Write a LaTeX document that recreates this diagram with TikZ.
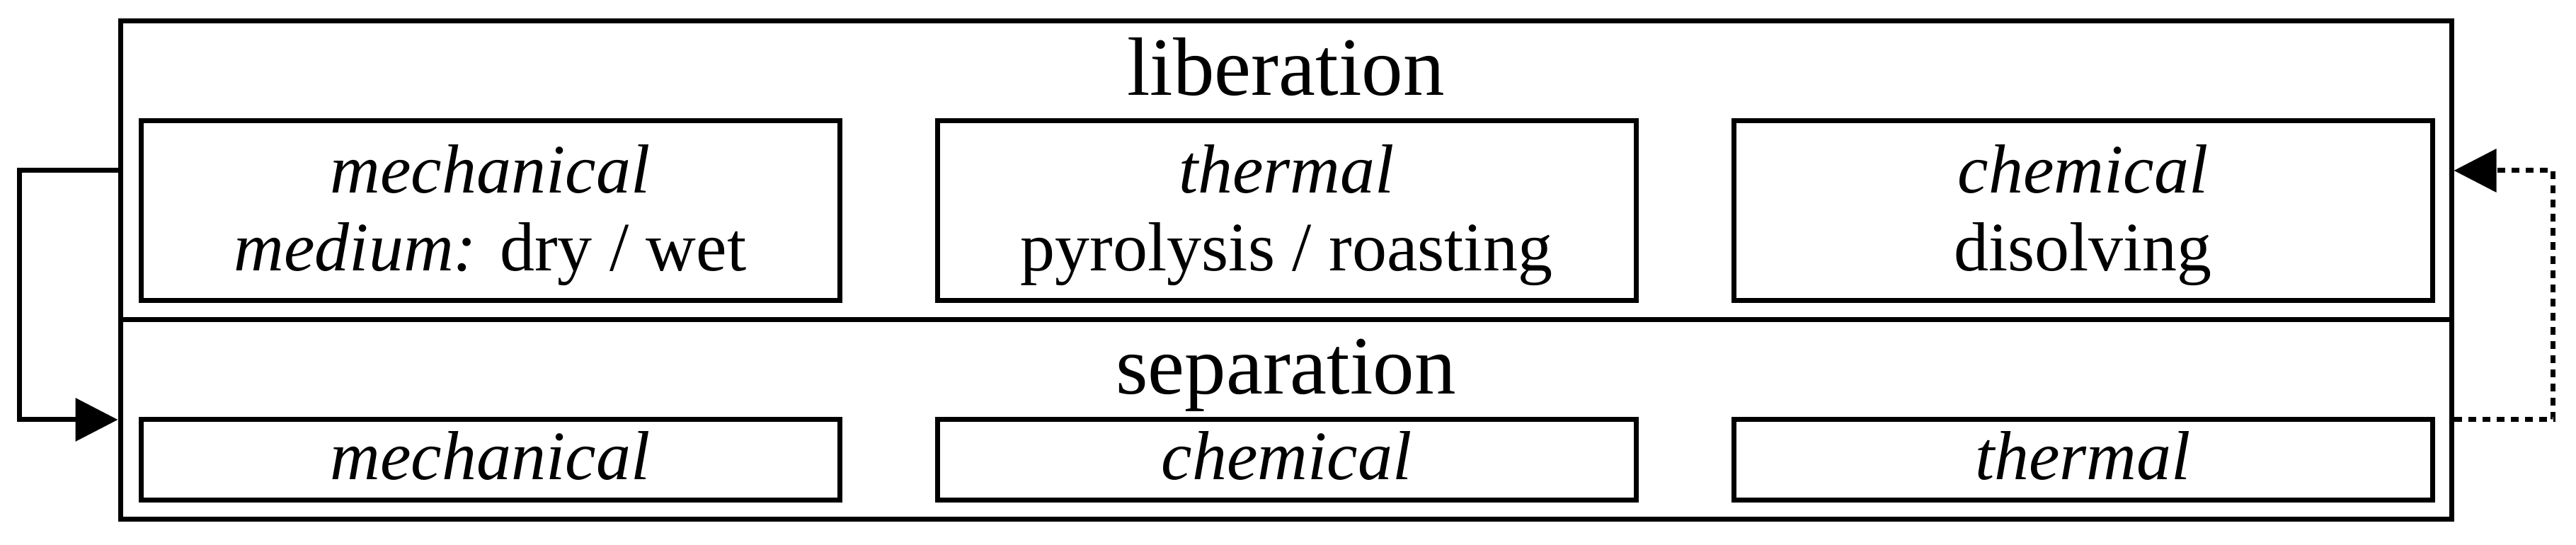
\documentclass[tikz,border=0pt]{standalone}
\usepackage{fontspec}
\setmainfont{Liberation Serif}
\usetikzlibrary{arrows.meta}
\tikzset{
every picture/.style={
line width=0.7pt
}}

\begin{document}
\begin{tikzpicture}[x=1pt,y=1pt,
stage/.style = {rectangle, draw=black, inner sep=0pt, minimum width=329.3pt},
title/.style = {anchor=base, inner sep=0pt, font=\fontsize{11.7}{14}\selectfont},
block/.style = {rectangle, draw=black, inner sep=0pt, minimum width=98.7pt, align=center, font=\fontsize{9.8}{11}\selectfont},
upper/.style = {block, minimum height=25.4pt, text height=18pt, text depth=1pt},
lower/.style = {block, minimum height=11.4pt, text height=7pt, text depth=1.4pt}]

\useasboundingbox (0,0) rectangle (363.9,77);

\node[stage, minimum height=42.2pt] (lib) at (181.65,52.9) {};
\node[stage, minimum height=28.2pt] (sep) at (181.65,17.7) {};

\node[title] (libt) at (181.65,63.5) {liberation};
\node[title] (sept) at (181.65,21.3) {separation};

\node[upper] (lm) at (69.25,47.2) {\textit{mechanical}\\{\itshape medium:} dry / wet};
\node[upper] (lt) at (181.75,47.2) {\textit{thermal}\\pyrolysis / roasting};
\node[upper] (lc) at (294.25,47.2) {\textit{chemical}\\disolving};

\node[lower] (sm) at (69.25,12) {\textit{mechanical}};
\node[lower] (sc) at (181.75,12) {\textit{chemical}};
\node[lower] (st) at (294.25,12) {\textit{thermal}};

\draw [-{Triangle[length=6pt,width=6pt]}] (lib.west) -- ++(-13.9,0) |- (sep.west);
\draw [dash pattern=on 1.1pt off 0.9pt, -{Triangle[length=6pt,width=6pt]}] (sep.east) -- ++(14,0) |- (lib.east);
\end{tikzpicture}
\end{document}
